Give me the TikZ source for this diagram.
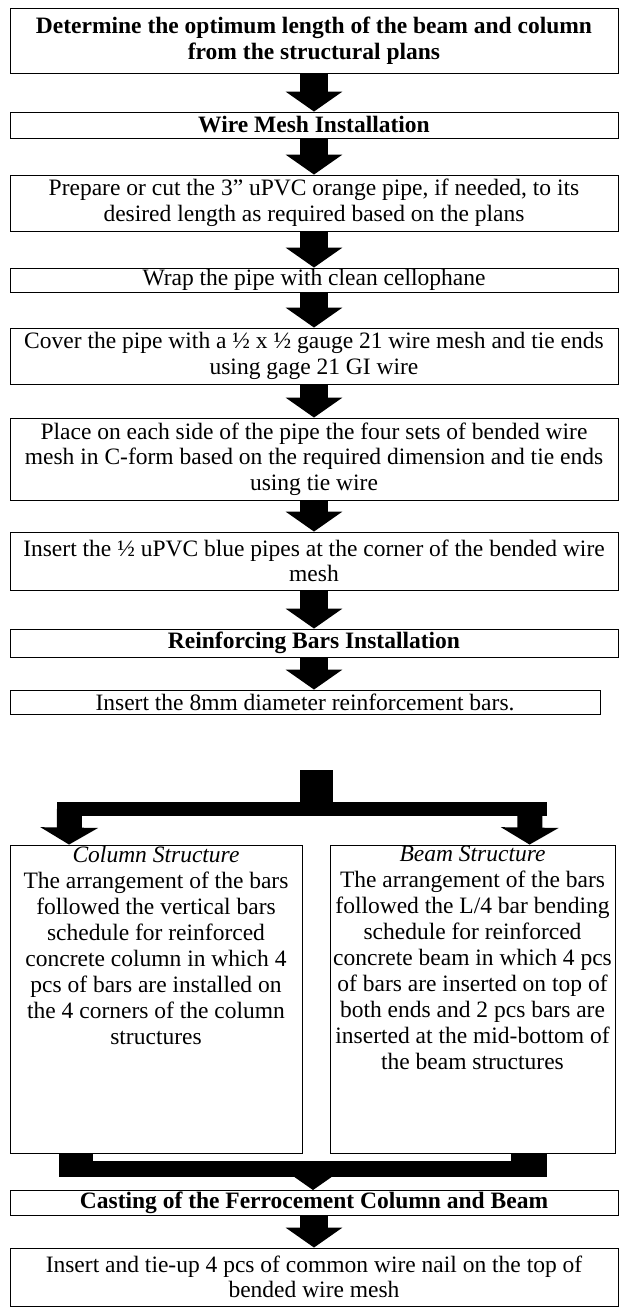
\documentclass[tikz,border=0pt]{standalone}
\usepackage{fontspec}
\setmainfont{Liberation Serif}
\usetikzlibrary{arrows.meta,calc}
\begin{document}
\begin{tikzpicture}[x=1pt,y=-1pt,
  box/.style={draw=black, line width=0.9pt, fill=white, inner sep=0pt, align=center, font=\fontsize{23.5}{25.5}\selectfont},
  boldbox/.style={box, font=\fontsize{23.5}{25.5}\selectfont\bfseries},
  txt/.style={inner sep=0pt, align=center, font=\fontsize{23.5}{26}\selectfont},
  barrow/.style={line width=28pt, -{Triangle[width=56pt,length=20pt]}},
  sarrow/.style={line width=25pt, -{Triangle[width=57pt,length=17pt]}},
  band/.style={fill=black},
]
\useasboundingbox (0,0) rectangle (621,1307);

\node[boldbox, minimum width=608pt, minimum height=65pt] (b1) at (314,40.5)
  {Determine the optimum length of the beam and column\\from the structural plans};
\node[boldbox, minimum width=608pt, minimum height=26pt] (b2) at (314,125)
  {Wire Mesh Installation};
\node[box, minimum width=608pt, minimum height=56pt] (b3) at (314,203)
  {Prepare or cut the 3” uPVC orange pipe, if needed, to its\\desired length as required based on the plans};
\node[box, minimum width=608pt, minimum height=24pt] (b4) at (314,280)
  {Wrap the pipe with clean cellophane};
\node[box, minimum width=608pt, minimum height=56pt] (b5) at (314,356)
  {Cover the pipe with a ½ x ½ gauge 21 wire mesh and tie ends\\using gage 21 GI wire};
\node[box, minimum width=608pt, minimum height=82pt] (b6) at (314,459)
  {Place on each side of the pipe the four sets of bended wire\\mesh in C-form based on the required dimension and tie ends\\using tie wire};
\node[box, minimum width=608pt, minimum height=58pt] (b7) at (314,561)
  {Insert the ½ uPVC blue pipes at the corner of the bended wire\\mesh};
\node[boldbox, minimum width=608pt, minimum height=28pt] (b8) at (314,643)
  {Reinforcing Bars Installation};
\node[box, minimum width=590pt, minimum height=24pt] (b9) at (305,702)
  {Insert the 8mm diameter reinforcement bars.};

\node[box, minimum width=292pt, minimum height=308pt] (col) at (156,999) {};
\node[txt, anchor=north] (coltext) at ([yshift=-1pt]col.north)
  {\textit{Column Structure}\\The arrangement of the bars\\followed the vertical bars\\schedule for reinforced\\concrete column in which 4\\pcs of bars are installed on\\the 4 corners of the column\\structures};
\node[box, minimum width=285pt, minimum height=308pt] (beam) at (472.5,999) {};
\node[txt, anchor=north] (beamtext) at ([yshift=-1pt]beam.north)
  {\textit{Beam Structure}\\The arrangement of the bars\\followed the L/4 bar bending\\schedule for reinforced\\concrete beam in which 4 pcs\\of bars are inserted on top of\\both ends and 2 pcs bars are\\inserted at the mid-bottom of\\the beam structures};

\node[boldbox, minimum width=608pt, minimum height=25pt] (cast) at (314,1203)
  {Casting of the Ferrocement Column and Beam};
\node[box, minimum width=608pt, minimum height=58pt] (last) at (314,1277)
  {Insert and tie-up 4 pcs of common wire nail on the top of\\bended wire mesh};

% straight arrows
\draw[barrow] (b1.south) -- (b2.north);
\draw[barrow] (b2.south) -- (b3.north);
\draw[barrow] (b3.south) -- (b4.north);
\draw[barrow] (b4.south) -- (b5.north);
\draw[barrow] (b5.south) -- (b6.north);
\draw[barrow] (b6.south) -- (b7.north);
\draw[barrow] (b7.south) -- (b8.north);
\draw[barrow] (b8.south) -- (b9.north -| b8.south);
\draw[barrow] (cast.south) -- (last.north);

% split
\coordinate (split) at (316,770);
\fill[band] ($(split)+(-16,0)$) rectangle ($(split)+(17,46)$);
\fill[band] (57,802) rectangle (547,816);
\draw[sarrow] (69.5,809) -- ($(col.north west)+(59.5,0)$);
\draw[sarrow] (530,809) -- ($(beam.north west)+(200,0)$);

% merge
\fill[band] ($(col.south west)+(49,0)$) rectangle ($(col.south west)+(83,24)$);
\fill[band] ($(beam.south west)+(181,0)$) rectangle ($(beam.south west)+(217,24)$);
\fill[band] (59,1161) rectangle (547,1177);
\draw[barrow] (313,1170) -- (cast.north -| 313,0);
\end{tikzpicture}
\end{document}
